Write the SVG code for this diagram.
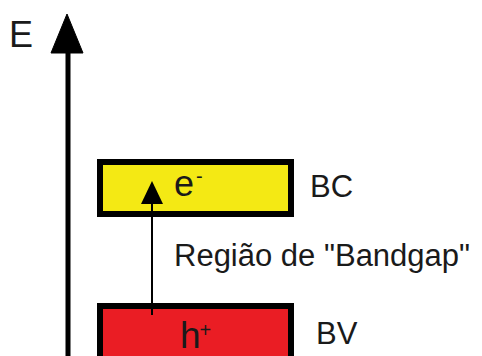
<svg xmlns="http://www.w3.org/2000/svg" width="482" height="356" viewBox="0 0 482 356">
<style>
text{font-family:"Liberation Sans",Arial,sans-serif;fill:#1a1a1a}
.band{stroke:#000;stroke-width:6}
.lbl{font-size:31px}
</style>
<rect width="482" height="356" fill="#fff"/>
<g id="axis">
<line x1="68" y1="50" x2="68" y2="356" stroke="#000" stroke-width="5"/>
<polygon points="67,14 83,53 51,53" fill="#000" stroke="#000" stroke-width="1" stroke-linejoin="round"/>
<text x="9" y="46.5" font-size="36">E</text>
</g>
<g id="bc">
<rect class="band" x="100" y="162" width="191" height="52" fill="#f4e914"/>
<text x="174" y="196" font-size="36">e<tspan font-size="20" x="196" y="183">-</tspan></text>
<text class="lbl" x="310" y="196.5">BC</text>
</g>
<g id="bv">
<rect class="band" x="100" y="306" width="191" height="60" fill="#ea1d24"/>
<text x="180" y="347.5" font-size="37">h<tspan font-size="20" x="199.5" y="337">+</tspan></text>
<text class="lbl" x="316" y="344">BV</text>
</g>
<g id="connectors">
<line x1="152" y1="202" x2="152" y2="315" stroke="#000" stroke-width="2"/>
<polygon points="152,181 163,204 141,204" fill="#000"/>
</g>
<g id="gap">
<text class="lbl" x="174" y="266">Região de "Bandgap"</text>
</g>
</svg>
